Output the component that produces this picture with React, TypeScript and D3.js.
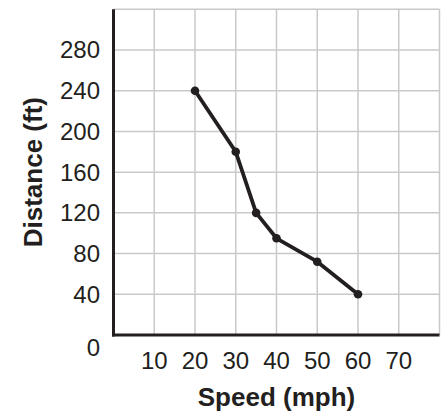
import * as d3 from "d3"

const speeds = [20, 30, 35, 40, 50, 60]
const distances = [240, 180, 120, 95, 72, 40]
const xTicks = [10, 20, 30, 40, 50, 60, 70]
const yTicks = [40, 80, 120, 160, 200, 240, 280]
const xGrid = [10, 20, 30, 40, 50, 60, 70, 80]
const yGrid = [40, 80, 120, 160, 200, 240, 280, 320]

const ink = "#231f20"
const font = "'Liberation Sans', Arial, Helvetica, sans-serif"

export default function App() {
    const x = d3.scaleLinear().domain([0, 80]).range([113.5, 439.5])
    const y = d3.scaleLinear().domain([0, 320]).range([335, 9.3])
    const line = d3.line<number>().x((_, i) => x(speeds[i])).y((d) => y(d))
    const path = line(distances) || ""

    return (
        <svg width={442} height={416} style={{ position: "absolute", left: 0, top: 0 }}>
            <rect width={442} height={416} fill="white" />
            <g stroke="#c9c9cb" strokeWidth={1.5}>
                {xGrid.map((v) => <line key={"x" + v} x1={x(v)} x2={x(v)} y1={y(320)} y2={y(0)} />)}
                {yGrid.map((v) => <line key={"y" + v} x1={x(0)} x2={x(80)} y1={y(v)} y2={y(v)} />)}
            </g>
            <line x1={x(0)} x2={x(0)} y1={y(320)} y2={y(0) + 1.5} stroke={ink} strokeWidth={3} />
            <line x1={x(0) - 1.5} x2={x(80)} y1={y(0)} y2={y(0)} stroke={ink} strokeWidth={3} />

            <path d={path} fill="none" stroke={ink} strokeWidth={3.8} strokeLinejoin="round" />
            {speeds.map((s, i) => <circle key={s} cx={x(s)} cy={y(distances[i])} r={4.3} fill={ink} />)}

            <g fontFamily={font} fontSize={24} fill={ink}>
                {yTicks.map((v) => (
                    <text key={v} x={100} y={y(v)} dy="0.35em" textAnchor="end">{v}</text>
                ))}
                <text x={100} y={356} textAnchor="end">0</text>
                {xTicks.map((v) => (
                    <text key={v} x={x(v)} y={369} textAnchor="middle">{v}</text>
                ))}
            </g>
            <text x={x(40)} y={406} textAnchor="middle" fontFamily={font} fontSize={26} fontWeight="bold" fill={ink}>
                Speed (mph)
            </text>
            <text transform={`translate(42, ${(y(0) + y(320)) / 2}) rotate(-90)`} textAnchor="middle"
                fontFamily={font} fontSize={26} fontWeight="bold" fill={ink}>
                Distance (ft)
            </text>
        </svg>
    )
}
